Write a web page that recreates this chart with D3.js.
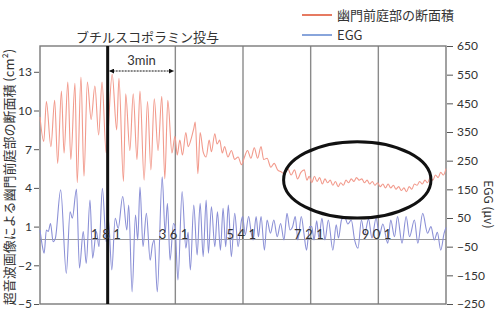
<!DOCTYPE html>
<html><head><meta charset="utf-8">
<script src="https://cdn.jsdelivr.net/npm/d3@7"></script>
<style>
html,body{margin:0;padding:0;background:#fff;}
svg{display:block;font-family:"Noto Sans CJK JP","Noto Sans",sans-serif;}
</style></head>
<body><svg id="c" width="500" height="314"></svg>
<script>
// ---- data ----
const timeTicks = [181, 361, 541, 721, 901];
const leftTicks = [-5, -2, 1, 4, 7, 10, 13];
const rightTicks = [-250, -150, -50, 50, 150, 250, 350, 450, 550, 650];
const seriesNames = ["幽門前庭部の断面積", "EGG"];
const titleText = "ブチルスコポラミン投与";
const leftTitle = "超音波画像による幽門前庭部の断面積 (cm²)";
const rightTitle = "EGG (μv)";
const injectionTime = 181;
const spanLabel = "3min";
const spanStart = 181, spanEnd = 361;

// antrum cross-sectional area (cm²), time index
const areaT = [1,11,18,30,40,48,58,65,75,83,94,100,110,118,127,137,147,157,166,177,
 193,205,211,223,229,240,249,259,267,278,287,296,305,315,325,333,341,352,
 360,366,373,380,389,395,404,410,414,421,427,435,443,451,457,466,472,479,486,492,501,510,519,528,537,
 545,553,562,571,580,589,596,605,615,624,633,642,651,660,669,678,686,695,704,711,717,
 724,731,738,745,752,759,766,773,780,787,794,801,808,815,822,829,836,843,850,857,864,871,878,885,892,899,
 906,913,920,927,934,941,948,955,962,969,976,983,990,997,1004,1011,1018,1025,1032,1039,1046,1053,1060,1067,1074,1081];
const areaV = [9.5,7.6,10.7,7.2,10.8,5.9,11.5,6.7,12.2,6.2,12.1,4.4,12.6,4.9,12.2,9.3,11.9,8.1,12.2,6.7,
 12.8,8.5,12.5,4.5,11.3,6.9,11.3,6.2,11.5,4.6,10.7,5.4,10.9,6.9,11.1,4.7,10.8,6.7,
 8.0,6.55,7.7,6.55,8.3,7.2,7.9,8.6,9.1,5.1,8.3,6.8,6.4,7.7,6.8,8.2,7.4,7.7,6.7,7.2,6.4,6.9,6.2,6.4,5.8,
 6.4,6.9,6.3,7.1,6.3,7.2,6.2,6.3,5.6,5.9,5.4,5.25,5.1,5.5,5.0,5.4,4.7,5.2,5.4,4.6,4.9,
 4.4,4.9,4.5,4.8,4.3,4.7,4.4,4.6,4.2,4.5,4.1,4.4,4.2,4.6,4.4,4.7,4.5,4.8,4.6,4.7,4.4,4.6,4.3,4.5,4.2,4.4,
 4.1,4.3,4.0,4.3,4.0,4.2,3.9,4.1,3.8,4.0,3.7,4.1,3.9,4.3,4.2,4.5,4.3,4.6,4.4,4.8,4.6,5.0,4.8,5.2,5.0,5.5];

// EGG (μV), time index
const eggT = [1,6,12,18,23,29,36,42,56,71,81,87,98,106,116,124,134,141,151,158,167,177,
 183,192,201,209,221,232,237,246,255,261,267,275,284,294,300,305,313,326,334,340,347,356,
 360,368,379,389,395,401,410,419,427,435,443,449,457,466,473,481,488,495,502,510,519,528,537,
 540,547,556,563,568,576,582,589,598,605,614,623,632,641,650,658,666,673,680,687,696,703,710,718,
 724,730,737,743,751,759,768,780,789,795,803,811,820,829,838,847,856,864,875,884,895,904,913,926,
 934,944,952,964,975,984,997,1006,1019,1032,1041,1050,1058,1067,1076,1081];
const eggV = [8,-38,-73,8,3,31,-33,-20,148,-143,72,49,151,-125,3,-108,113,-90,3,-50,154,-33,
 43,-131,49,14,125,8,95,-208,60,-27,158,-50,66,-97,-44,-27,-208,194,-3,101,-97,31,
 22,-166,142,-55,0,-131,95,-79,101,-85,113,-73,89,-50,72,-62,84,-50,95,-85,66,-50,43,
 55,-9,55,-3,-27,55,-15,55,-62,43,-3,43,-15,31,-27,66,8,20,55,-27,55,-3,-62,20,
 20,-27,40,-20,49,-27,43,-62,26,-20,43,55,29,43,-27,-55,43,-9,46,-20,49,-9,29,-38,
 43,-15,55,-38,55,-15,43,-38,66,-3,20,-27,0,-62,-3,17];

// annotation ellipse (time, cm²)
const ellipseCenter = [845, 4.62];
const ellipseRadius = [196, 2.96];

// ---- drawing ----
const W = 500, H = 314;
const L = 40, R = 446, T = 46, B = 304;
const svg = d3.select("#c");
const x = d3.scaleLinear().domain([1, 1081]).range([L, R]);
const yL = d3.scaleLinear().domain([-5, 15]).range([B, T]);
const yR = d3.scaleLinear().domain([-250, 650]).range([B, T]);
const gridCol = "#8a8a8a", txtCol = "#333";

// vertical grid lines
svg.append("g").selectAll("line").data(timeTicks.filter(d => d !== injectionTime)).join("line")
  .attr("x1", d => x(d)).attr("x2", d => x(d)).attr("y1", T).attr("y2", B)
  .attr("stroke", gridCol).attr("stroke-width", 1.4);

// zero line
svg.append("line").attr("x1", L).attr("x2", R).attr("y1", yL(0)).attr("y2", yL(0))
  .attr("stroke", "#9a9a9a").attr("stroke-width", 1.2);

// frame
svg.append("rect").attr("x", L).attr("y", T).attr("width", R - L).attr("height", B - T)
  .attr("fill", "none").attr("stroke", "#7a7a7a").attr("stroke-width", 1.4);

// series lines
const areaLine = d3.line().x((d, i) => x(areaT[i])).y(d => yL(d)).curve(d3.curveMonotoneX);
const eggLine = d3.line().x((d, i) => x(eggT[i])).y(d => yR(d)).curve(d3.curveMonotoneX);
svg.append("path").attr("d", eggLine(eggV)).attr("fill", "none")
  .attr("stroke", "#8b90d6").attr("stroke-width", 1.1);
svg.append("path").attr("d", areaLine(areaV)).attr("fill", "none")
  .attr("stroke", "#f29a8c").attr("stroke-width", 1.1);

// injection line
svg.append("line").attr("x1", x(injectionTime)).attr("x2", x(injectionTime)).attr("y1", T).attr("y2", B)
  .attr("stroke", "#111").attr("stroke-width", 3);

// time tick labels on zero line
svg.append("g").selectAll("text").data(timeTicks).join("text")
  .attr("x", d => x(d)).attr("y", yL(0) - 1).attr("text-anchor", "middle")
  .attr("font-family", "Lato, 'Noto Sans', sans-serif").attr("font-size", 13)
  .attr("letter-spacing", 3.5).attr("fill", txtCol)
  .text(d => String(d));

// left axis
const axL = d3.axisLeft(yL).tickValues(leftTicks).tickSize(5).tickPadding(2);
const gL = svg.append("g").attr("transform", `translate(${L - 1},0)`).call(axL);
gL.select(".domain").remove();
gL.selectAll("line").attr("stroke", "#555");
gL.selectAll("text").attr("font-family", "Lato, 'Noto Sans', sans-serif").attr("font-size", 12).attr("fill", txtCol);

// right axis
const axR = d3.axisRight(yR).tickValues(rightTicks).tickSize(6).tickPadding(4);
const gR = svg.append("g").attr("transform", `translate(${R + 1},0)`).call(axR);
gR.select(".domain").remove();
gR.selectAll("line").attr("stroke", "#555");
gR.selectAll("text").attr("font-family", "Lato, 'Noto Sans', sans-serif").attr("font-size", 12).attr("fill", txtCol);

// axis titles
svg.append("text").attr("transform", `translate(14,${(T + B) / 2 + 2}) rotate(-90)`)
  .attr("text-anchor", "middle").attr("font-size", 13).attr("fill", txtCol).text(leftTitle);
svg.append("text").attr("transform", `translate(484,${yR(150) + 15}) rotate(90)`)
  .attr("text-anchor", "middle").attr("font-size", 12).attr("fill", txtCol).text(rightTitle);

// title
svg.append("text").attr("x", (x(injectionTime) + x(spanEnd)) / 2 + 6).attr("y", 42)
  .attr("text-anchor", "middle").attr("font-size", 13).attr("fill", txtCol).text(titleText);

// 3min span arrow
const defs = svg.append("defs");
defs.append("marker").attr("id", "ah").attr("viewBox", "0 0 10 10").attr("refX", 9).attr("refY", 5)
  .attr("markerWidth", 5).attr("markerHeight", 5).attr("orient", "auto-start-reverse")
  .append("path").attr("d", "M0,0 L10,5 L0,10 z").attr("fill", "#111");
svg.append("line").attr("x1", x(spanStart) + 2).attr("x2", x(spanEnd) - 2).attr("y1", 71).attr("y2", 71)
  .attr("stroke", "#111").attr("stroke-width", 1).attr("stroke-dasharray", "2,1")
  .attr("marker-start", "url(#ah)").attr("marker-end", "url(#ah)");
svg.append("text").attr("x", (x(spanStart) + x(spanEnd)) / 2).attr("y", 65).attr("text-anchor", "middle")
  .attr("font-family", "Lato, 'Noto Sans', sans-serif").attr("font-size", 13).attr("fill", txtCol).text(spanLabel);

// ellipse annotation
svg.append("ellipse").attr("cx", x(ellipseCenter[0])).attr("cy", yL(ellipseCenter[1]))
  .attr("rx", x(ellipseCenter[0] + ellipseRadius[0]) - x(ellipseCenter[0]))
  .attr("ry", yL(ellipseCenter[1] - ellipseRadius[1]) - yL(ellipseCenter[1]))
  .attr("fill", "none").attr("stroke", "#111").attr("stroke-width", 3);

// legend
const legCols = ["#e0593a", "#6a8fd2"];
const leg = svg.append("g").selectAll("g").data(seriesNames).join("g")
  .attr("transform", (d, i) => `translate(302,${15 + i * 20})`);
leg.append("line").attr("x1", 0).attr("x2", 30).attr("y1", 0).attr("y2", 0)
  .attr("stroke", (d, i) => legCols[i]).attr("stroke-width", 1.6);
leg.append("text").attr("x", 35).attr("y", 0).attr("dy", "0.35em").attr("font-size", 13)
  .attr("fill", txtCol).text(d => d);
</script></body></html>
